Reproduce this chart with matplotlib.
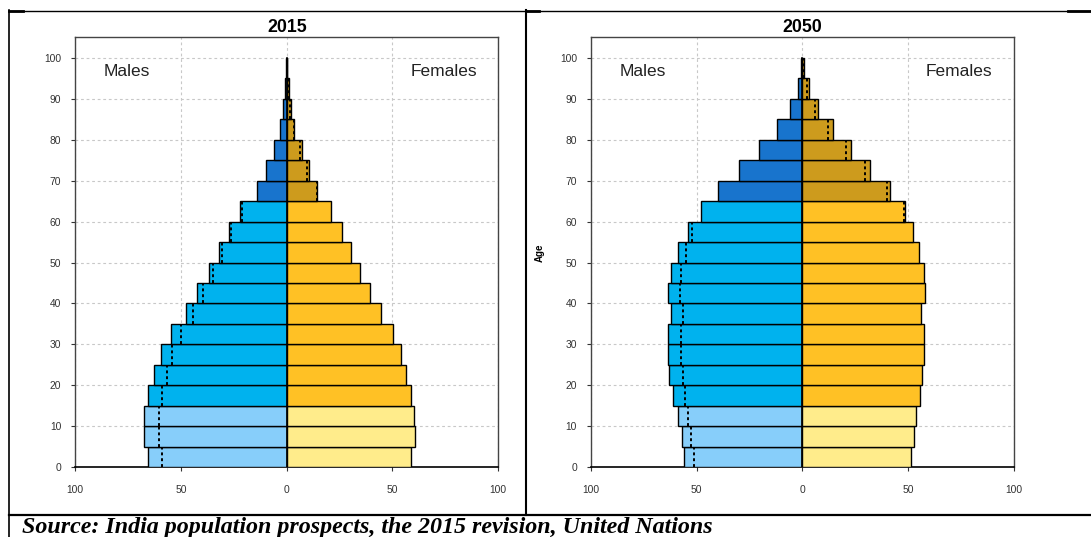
import matplotlib
matplotlib.use("Agg")
import matplotlib.pyplot as plt
from matplotlib.lines import Line2D

plt.rcParams['font.family'] = ['Liberation Sans', 'DejaVu Sans']

# Age groups (lower bound of each 5-year group)
ages = [0, 5, 10, 15, 20, 25, 30, 35, 40, 45, 50, 55, 60, 65, 70, 75, 80, 85, 90, 95]

# Population (millions)
males_2015 = [65.7, 67.5, 67.5, 65.7, 62.7, 59.4, 54.6, 47.6, 42.4, 36.7,
              32.1, 27.3, 22.2, 14.1, 9.6, 6.1, 3.3, 1.6, 0.8, 0.15]
females_2015 = [58.8, 60.5, 60.2, 58.8, 56.4, 54.2, 50.2, 44.4, 39.6, 34.9,
                30.5, 26.2, 21.0, 14.4, 10.5, 7.1, 3.6, 2.0, 1.0, 0.2]
males_2050 = [55.9, 57.1, 58.7, 61.1, 62.9, 63.5, 63.5, 62.2, 63.5, 62.2,
              58.7, 54.0, 47.9, 40.0, 29.8, 20.6, 12.1, 5.9, 2.2, 0.7]
females_2050 = [51.5, 52.6, 53.9, 55.6, 56.7, 57.3, 57.3, 56.3, 58.0, 57.3,
                55.0, 52.2, 48.5, 41.3, 31.9, 23.2, 14.4, 7.6, 2.9, 0.8]

years = ["2015", "2050"]
source_text = "Source: India population prospects, the 2015 revision, United Nations"

# colour by broad age class: 0-14, 15-64, 65+
male_cols = ['#87CEFA', '#00B2EE', '#1874CD']
female_cols = ['#FFEC8B', '#FFC125', '#CD9B1D']


def age_class(a):
    if a < 15:
        return 0
    if a < 65:
        return 1
    return 2


W, H = 1091, 537
fig = plt.figure(figsize=(W / 100, H / 100), dpi=100)


def fx(x):
    return x / W


def fy(y):
    return 1 - y / H


panels = [
    (years[0], males_2015, females_2015, 75.3, False),
    (years[1], males_2050, females_2050, 591.0, True),
]

for title, m, f, left_px, show_ylabel in panels:
    ax = fig.add_axes([fx(left_px), fy(467.3), 422.8 / W, 430.0 / H])
    ax.set_xlim(-100, 100)
    ax.set_ylim(0, 105)
    ax.set_axisbelow(True)
    ax.grid(True, color='#c8c8c8', linestyle=(0, (2.5, 2.5)), linewidth=0.8)
    ax.set_xticks([-100, -50, 0, 50, 100])
    ax.set_xticklabels(['100', '50', '0', '50', '100'])
    ax.set_yticks(list(range(0, 101, 10)))
    ax.tick_params(axis='both', labelsize=7.4, colors='#333333', length=3,
                   width=0.8)
    ax.tick_params(axis='x', pad=9.5)
    ax.tick_params(axis='y', pad=7)
    for s in ax.spines.values():
        s.set_color('#444444')
        s.set_linewidth(1.0)
    ax.spines['bottom'].set_color('black')
    ax.spines['bottom'].set_linewidth(1.2)

    mc = [male_cols[age_class(a)] for a in ages]
    fc = [female_cols[age_class(a)] for a in ages]
    ax.barh(ages, [-v for v in m], height=5, align='edge', color=mc,
            edgecolor='black', linewidth=1.0, zorder=3)
    ax.barh(ages, f, height=5, align='edge', color=fc,
            edgecolor='black', linewidth=1.0, zorder=3)
    ax.plot([0, 0], [0, 100], color='black', linewidth=1.2, zorder=4)

    # dotted markers: value of the opposite sex, drawn inside the larger bar
    for a, mv, fv in zip(ages, m, f):
        if fv < mv:
            xs = -fv
        else:
            xs = mv
        ax.plot([xs, xs], [a, a + 5], color='black', linestyle=(0, (1.5, 1.5)),
                linewidth=1.4, zorder=5)

    ax.set_title(title, fontsize=12.8, fontweight='bold', pad=4)
    ax.text(-86.5, 96.6, 'Males', fontsize=12.5, ha='left', va='center',
            color='#222222', zorder=6)
    ax.text(90, 96.6, 'Females', fontsize=12.5, ha='right', va='center',
            color='#222222', zorder=6)
    if show_ylabel:
        ax.set_ylabel('Age', fontsize=7, fontweight='bold')
        ax.yaxis.set_label_coords(-0.109, 0.5)

# table-like border lines of the source document
lines = [
    ((8.5, 1091), (10.7, 10.7), 1.0),
    ((8.5, 23), (10.9, 10.9), 2.0),
    ((525.7, 539), (10.9, 10.9), 2.0),
    ((1068, 1091), (10.9, 10.9), 2.0),
    ((8.5, 8.5), (10.2, 537), 1.2),
    ((525.7, 525.7), (10.2, 514.5), 1.5),
    ((8.5, 1091), (514.5, 514.5), 1.6),
]
for xs, ys, lw in lines:
    fig.add_artist(Line2D([fx(x) for x in xs], [fy(y) for y in ys],
                          color='black', linewidth=lw))

fig.text(fx(22), fy(533.5), source_text, fontsize=17.3, fontweight='bold',
         fontstyle='italic', family=['Liberation Serif', 'DejaVu Serif'],
         ha='left', va='baseline')

fig.savefig('out.png', dpi=100)
